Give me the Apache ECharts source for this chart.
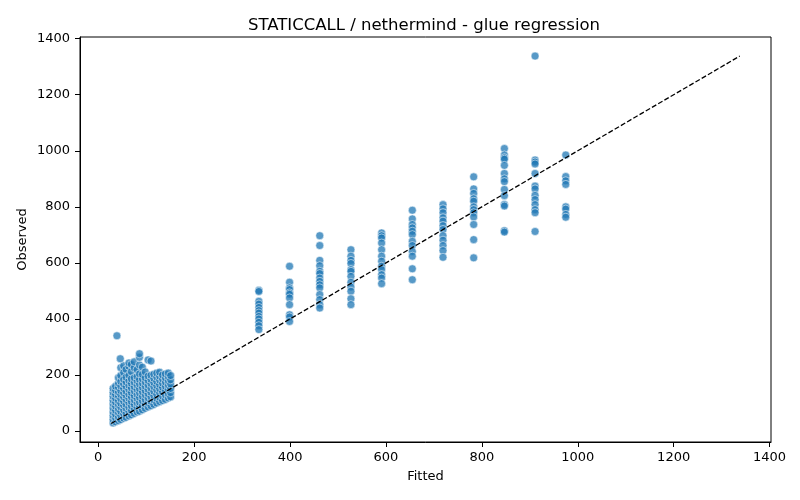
<!DOCTYPE html>
<html>
<head>
<meta charset="utf-8">
<script src="https://cdn.jsdelivr.net/npm/echarts@6/dist/echarts.min.js"></script>
<style>
html,body{margin:0;padding:0;background:#fff;}
#chart{width:800px;height:500px;}
</style>
</head>
<body>
<div id="chart"></div>
<script>
// fitted value of each vertical column of points
var colFitted = [335, 399, 462, 527, 591, 655, 719, 783, 847, 911, 975];
// observed values in each column
var colObserved = [
    [502, 498, 463, 453, 441, 430, 421, 409, 400, 388, 376, 362],
    [588, 531, 511, 505, 493, 488, 475, 451, 415, 407, 391],
    [697, 662, 609, 590, 570, 562, 546, 534, 522, 511, 487, 469, 451, 439],
    [647, 624, 609, 598, 576, 570, 552, 531, 514, 499, 472, 451],
    [707, 697, 689, 671, 647, 624, 606, 588, 576, 558, 546, 526],
    [788, 757, 737, 725, 713, 701, 677, 662, 641, 624, 579, 540],
    [808, 793, 779, 761, 749, 733, 719, 697, 681, 662, 644, 620],
    [907, 864, 848, 829, 820, 800, 790, 779, 764, 737, 683, 618],
    [1008, 985, 975, 970, 948, 919, 900, 890, 862, 840, 808, 803, 715, 710],
    [1338, 967, 960, 953, 919, 874, 864, 841, 826, 808, 790, 779, 712],
    [985, 908, 893, 880, 800, 792, 773, 763]
];
// low cost cluster: fitted values and the observed values at each
var lowFitted = [31, 36, 42, 47, 53, 58, 64, 69, 75, 81, 86, 92, 98, 104, 110, 116, 122, 128, 134, 140, 146, 151];
var lowObserved = [
    [29, 41, 55, 68, 82, 97, 110, 124, 138, 152],
    [33, 47, 60, 74, 89, 103, 117, 131, 146, 160],
    [37, 50, 66, 79, 94, 108, 125, 139, 156, 171, 190],
    [41, 56, 70, 86, 99, 115, 130, 144, 161, 177, 198, 226],
    [46, 61, 75, 92, 106, 121, 136, 152, 168, 184, 209, 233],
    [49, 64, 81, 95, 112, 127, 142, 159, 175, 192, 220],
    [54, 70, 85, 101, 117, 131, 148, 163, 180, 199, 231, 243],
    [58, 74, 90, 105, 122, 137, 154, 170, 186, 212, 238],
    [63, 79, 95, 111, 126, 143, 158, 174, 190, 226, 247],
    [68, 84, 100, 116, 131, 148, 164, 179, 195, 219],
    [71, 88, 103, 120, 136, 151, 168, 184, 204, 236, 263, 276],
    [76, 92, 108, 124, 140, 156, 171, 186, 202, 228],
    [81, 97, 112, 129, 144, 160, 175, 190, 211],
    [86, 101, 118, 133, 149, 164, 180, 196, 254],
    [90, 106, 122, 138, 153, 169, 184, 199, 250],
    [95, 111, 126, 142, 158, 173, 188, 203],
    [100, 116, 131, 147, 162, 177, 193, 207],
    [105, 120, 136, 151, 166, 182, 196, 210],
    [109, 125, 140, 156, 171, 186, 200],
    [113, 129, 145, 160, 175, 190, 204],
    [118, 133, 149, 164, 179, 194, 207],
    [122, 137, 152, 168, 183, 198]
];
// isolated points above the cluster
var upperFitted = [39, 46];
var upperObserved = [340, 258];
// identity reference line
var diagLine = [27, 1338];
var xTicks = [0, 200, 400, 600, 800, 1000, 1200, 1400];
var yTicks = [0, 200, 400, 600, 800, 1000, 1200, 1400];

var points = [];
for (var i = 0; i < colFitted.length; i++) {
    for (var j = 0; j < colObserved[i].length; j++) {
        points.push([colFitted[i], colObserved[i][j]]);
    }
}
for (var i = 0; i < lowFitted.length; i++) {
    for (var j = 0; j < lowObserved[i].length; j++) {
        points.push([lowFitted[i], lowObserved[i][j]]);
    }
}
for (var i = 0; i < upperFitted.length; i++) {
    points.push([upperFitted[i], upperObserved[i]]);
}

var font = 'DejaVu Sans';
var plain = function (v) { return String(v); };
var axisCommon = {
    type: 'value',
    nameLocation: 'middle',
    nameMoveOverlap: false,
    nameTextStyle: {fontFamily: font, fontSize: 13, color: '#000'},
    axisLine: {show: true, onZero: false, lineStyle: {color: '#000', width: 1}},
    axisTick: {show: true, inside: false, length: 5, lineStyle: {color: '#000', width: 1}},
    splitLine: {show: false}
};

var myChart = echarts.init(document.getElementById('chart'));
myChart.setOption({
    backgroundColor: '#fff',
    animation: false,
    title: {
        text: 'STATICCALL / nethermind - glue regression',
        left: 419,
        top: 12,
        textAlign: 'center',
        textStyle: {fontFamily: font, fontSize: 16.5, fontWeight: 'normal', color: '#000'}
    },
    grid: {
        left: 80, right: 29, top: 37, bottom: 58,
        show: true, borderColor: '#000', borderWidth: 1
    },
    xAxis: Object.assign({}, axisCommon, {
        name: 'Fitted',
        nameGap: 28,
        min: -38,
        max: 1403,
        axisTick: Object.assign({}, axisCommon.axisTick, {customValues: xTicks}),
        axisLabel: {customValues: xTicks, formatter: plain, fontFamily: font, fontSize: 13, color: '#000', margin: 9}
    }),
    yAxis: Object.assign({}, axisCommon, {
        name: 'Observed',
        nameGap: 51,
        min: -39,
        max: 1406,
        axisTick: Object.assign({}, axisCommon.axisTick, {customValues: yTicks}),
        axisLabel: {customValues: yTicks, formatter: plain, fontFamily: font, fontSize: 13, color: '#000', margin: 10}
    }),
    series: [
        {
            type: 'scatter',
            data: points,
            symbolSize: 8,
            itemStyle: {color: '#1f77b4', opacity: 0.75, borderColor: '#fff', borderWidth: 0.7}
        },
        {
            type: 'line',
            data: [[diagLine[0], diagLine[0]], [diagLine[1], diagLine[1]]],
            symbol: 'none',
            z: 5,
            lineStyle: {color: '#000', width: 1.3, type: [5, 2.2]}
        }
    ]
});
</script>
</body>
</html>
